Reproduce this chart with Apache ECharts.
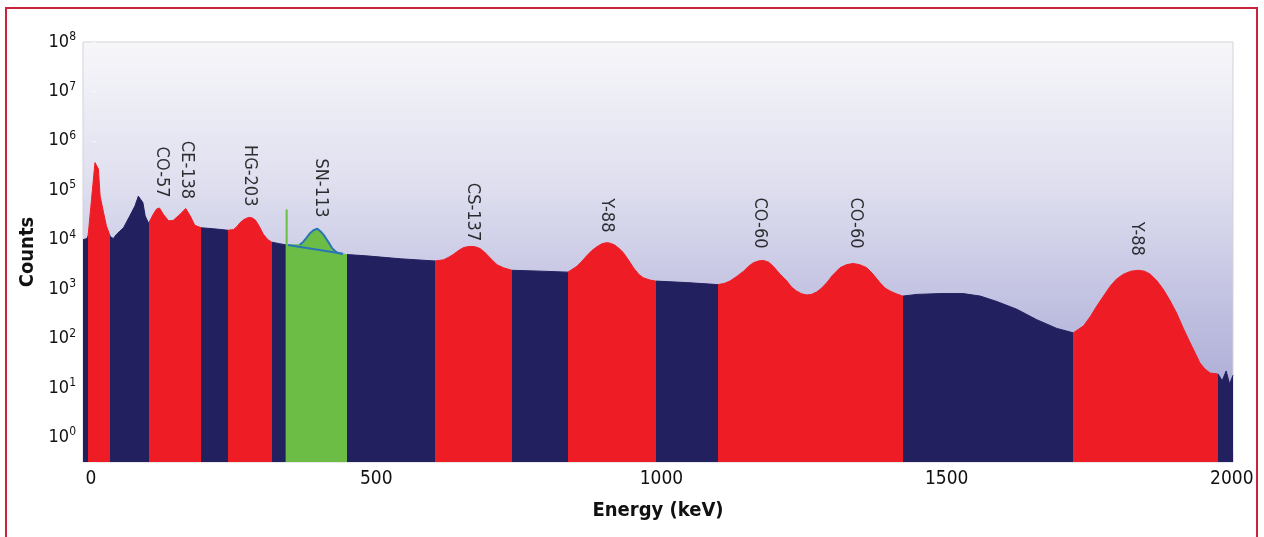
<!DOCTYPE html>
<html>
<head>
<meta charset="utf-8">
<style>
  html, body { margin: 0; padding: 0; background: #fff; }
  #main { width: 1264px; height: 537px; }
  #frame { position: absolute; left: 5px; top: 7px; width: 1253px; height: 600px; border: 2px solid #c8243c; box-sizing: border-box; pointer-events: none; }
</style>
<script src="https://cdn.jsdelivr.net/npm/echarts@6/dist/echarts.min.js"></script>
</head>
<body>
<div id="main"></div>
<div id="frame"></div>
<script>
// gamma spectrum (keV / counts)
const energy = [-14, -7, -5, 1, 7, 10, 13, 16, 22, 27, 34, 39, 45, 57, 68, 77, 83, 86, 91, 95,
  101, 109, 115, 120, 127, 136, 144, 156, 166, 174, 182, 193, 215, 240, 250, 256, 261, 268, 276, 282,
  288, 293, 298, 302, 307, 311, 317, 330, 343, 366, 372, 378, 384, 390, 397, 404, 409, 413, 418, 422,
  427, 431, 440, 448, 483, 542, 603, 618, 627, 635, 645, 653, 660, 668, 675, 682, 690, 697, 704, 712,
  723, 738, 790, 836, 852, 860, 869, 878, 887, 896, 904, 910, 918, 926, 933, 942, 951, 960, 968, 980,
  990, 1045, 1099, 1110, 1120, 1132, 1144, 1153, 1161, 1170, 1179, 1188, 1196, 1208, 1220, 1228, 1237, 1246, 1255, 1263,
  1272, 1281, 1290, 1300, 1313, 1324, 1336, 1348, 1360, 1371, 1383, 1392, 1401, 1412, 1423, 1448, 1488, 1529, 1559, 1588,
  1623, 1658, 1693, 1722, 1740, 1752, 1763, 1775, 1787, 1798, 1810, 1823, 1836, 1847, 1857, 1868, 1880, 1891, 1903, 1915,
  1927, 1936, 1944, 1953, 1962, 1976, 1983, 1990, 1996, 2002]
const counts = [10000, 10500, 12000, 66000, 363000, 389000, 269000, 76000, 35500, 19000, 11500, 10500, 12900, 17400, 30200, 47900, 75900, 83200, 56200, 30200,
  21400, 32400, 41700, 43700, 32400, 24000, 24500, 32400, 42700, 30200, 19500, 17400, 16600, 15500, 16000, 18500, 21900, 25500, 28200, 27800,
  25000, 20400, 16000, 12900, 11000, 9800, 8900, 8300, 7800, 7900, 9000, 11000, 13500, 15500, 16600, 14100, 12000, 10200, 8300, 6900,
  6000, 5500, 5100, 5000, 4700, 4100, 3700, 3900, 4400, 5000, 6100, 6900, 7200, 7300, 7100, 6600, 5600, 4600, 3800, 3100,
  2700, 2400, 2300, 2200, 2900, 3600, 4700, 6000, 7200, 8300, 8700, 8500, 7800, 6600, 5500, 3900, 2700, 2000, 1700, 1520,
  1450, 1350, 1230, 1300, 1450, 1800, 2300, 2900, 3400, 3700, 3800, 3500, 2900, 2000, 1450, 1100, 910, 800, 760, 780,
  870, 1050, 1350, 1900, 2700, 3100, 3300, 3100, 2700, 2000, 1350, 1050, 910, 800, 720, 780, 810, 810, 720, 560,
  390, 240, 160, 130, 180, 280, 450, 720, 1150, 1600, 2000, 2300, 2400, 2300, 2000, 1500, 980, 600, 330, 160,
  81, 50, 32, 24, 20, 19, 14, 22, 12, 18]

// regions of interest (keV), the selected one is shown green
const roiStart = [-6, 101, 240, 343, 603, 836, 1099, 1722]
const roiEnd = [34, 193, 317, 448, 738, 990, 1423, 1976]
const roiSelected = [false, false, false, true, false, false, false, false]

// peak labels
const peakNames = ['CO-57', 'CE-138', 'HG-203', 'SN-113', 'CS-137', 'Y-88', 'CO-60', 'CO-60', 'Y-88']
const peakEnergy = [124, 168, 279, 402, 669, 904, 1173, 1341, 1833]
const peakLabelAt = [71000, 66000, 47000, 28000, 9300, 14000, 6600, 6600, 4700]

// SN-113 fit: continuum under the peak and the ROI marker
const snBaselineEnergy = [345, 442]
const snBaselineCounts = [7800, 5200]
const markerEnergy = 343
const markerCounts = 41000

const RED = '#ee1c25'
const NAVY = '#22205e'
const GREEN = '#6cbd45'
const TEAL = '#2a76b4'
const FONT = "'DejaVu Sans Condensed', 'Liberation Sans', sans-serif"
const yMin = Math.pow(10, -0.5)

let chart = echarts.init(document.getElementById('main'), null, { renderer: 'canvas' })

let spectrum = energy.map((e, i) => [e, counts[i]])
let snOutline = spectrum.filter(p => p[0] >= 360 && p[0] <= 446)

let option = {
  animation: false,
  grid: {
    left: 83,
    right: 31,
    top: 42,
    bottom: 75,
    show: true,
    borderColor: '#d3d3da',
    borderWidth: 1,
    backgroundColor: {
      type: 'linear', x: 0, y: 0, x2: 0, y2: 1,
      colorStops: [
        { offset: 0, color: '#f7f7fa' },
        { offset: 0.35, color: '#dedeef' },
        { offset: 0.65, color: '#bebee0' },
        { offset: 1, color: '#9fa0d0' }
      ]
    }
  },
  visualMap: {
    type: 'piecewise',
    show: false,
    dimension: 0,
    seriesIndex: 0,
    pieces: roiStart.map((s, i) => ({ gte: s, lt: roiEnd[i], color: roiSelected[i] ? GREEN : RED })),
    outOfRange: { color: NAVY }
  },
  xAxis: {
    type: 'value',
    min: -14,
    max: 2002,
    name: 'Energy (keV)',
    nameLocation: 'middle',
    nameGap: 39,
    nameTextStyle: { fontFamily: FONT, fontSize: 20, fontWeight: 'bold', color: '#111' },
    axisLine: { show: false },
    splitLine: { show: false },
    axisTick: { show: true, inside: true, length: 10, lineStyle: { color: 'rgba(215,215,250,0.6)' } },
    minorTick: { show: true, splitNumber: 4, length: 4, lineStyle: { color: 'rgba(255,200,210,0.6)' } },
    axisLabel: {
      fontFamily: FONT, fontSize: 19, color: '#111', margin: 8,
      formatter: v => (v % 500 === 0 ? String(v) : '')
    }
  },
  yAxis: {
    type: 'log',
    logBase: 10,
    min: yMin,
    max: 1e8,
    name: 'Counts',
    nameLocation: 'middle',
    nameGap: 37,
    nameTextStyle: { fontFamily: FONT, fontSize: 20, fontWeight: 'bold', color: '#111' },
    axisLine: { show: false },
    splitLine: { show: false },
    axisTick: { show: true, inside: true, length: 5, lineStyle: { color: 'rgba(255,255,255,0.5)' } },
    axisLabel: {
      margin: 7,
      formatter: v => {
        let e = Math.round(Math.log10(v))
        if (Math.abs(Math.log10(v) - e) > 0.01) return ''
        return '{b|10}{s|' + e + '}'
      },
      rich: {
        b: { fontFamily: FONT, fontSize: 18, color: '#111' },
        s: { fontFamily: FONT, fontSize: 12, color: '#111', padding: [0, 0, 10, 0] }
      }
    }
  },
  series: [
    {
      name: 'spectrum',
      type: 'line',
      data: spectrum,
      showSymbol: false,
      symbol: 'none',
      silent: true,
      lineStyle: { width: 1 },
      areaStyle: { opacity: 1, origin: 'start' },
      z: 2
    },
    {
      name: 'SN-113 fit',
      type: 'line',
      data: snOutline,
      showSymbol: false,
      symbol: 'none',
      silent: true,
      lineStyle: { width: 2, color: TEAL },
      z: 3
    },
    {
      name: 'SN-113 continuum',
      type: 'line',
      data: snBaselineEnergy.map((e, i) => [e, snBaselineCounts[i]]),
      showSymbol: false,
      symbol: 'none',
      silent: true,
      lineStyle: { width: 2, color: TEAL },
      z: 3
    },
    {
      name: 'ROI marker',
      type: 'line',
      data: [[markerEnergy, yMin], [markerEnergy, markerCounts]],
      showSymbol: false,
      symbol: 'none',
      silent: true,
      lineStyle: { width: 2, color: GREEN },
      z: 3
    },
    {
      name: 'peaks',
      type: 'scatter',
      data: peakEnergy.map((e, i) => [e, peakLabelAt[i], peakNames[i]]),
      symbolSize: 0,
      silent: true,
      label: {
        show: true,
        position: 'inside',
        rotate: -90,
        align: 'right',
        verticalAlign: 'middle',
        formatter: p => p.data[2],
        fontFamily: FONT,
        fontSize: 18,
        color: '#000'
      },
      z: 4
    }
  ]
}
chart.setOption(option)
</script>
</body>
</html>
